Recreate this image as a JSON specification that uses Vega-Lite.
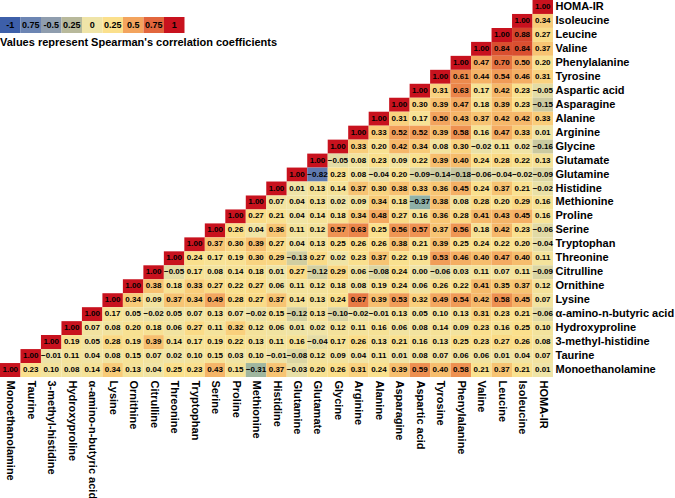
{
"$schema":"https://vega.github.io/schema/vega-lite/v6.json",
"padding":{"left":0,"top":0,"right":0,"bottom":0},
"width":553,"height":377,
"config":{"view":{"stroke":null},"font":"Liberation Sans"},
"resolve":{"scale":{"x":"independent","y":"independent"}},
"layer":[
{
"data":{"values":[
{"row":"HOMA-IR","col":"HOMA-IR","r":1},
{"row":"Isoleucine","col":"Isoleucine","r":1},{"row":"Isoleucine","col":"HOMA-IR","r":0.34},
{"row":"Leucine","col":"Leucine","r":1},{"row":"Leucine","col":"Isoleucine","r":0.88},{"row":"Leucine","col":"HOMA-IR","r":0.27},
{"row":"Valine","col":"Valine","r":1},{"row":"Valine","col":"Leucine","r":0.84},{"row":"Valine","col":"Isoleucine","r":0.84},{"row":"Valine","col":"HOMA-IR","r":0.37},
{"row":"Phenylalanine","col":"Phenylalanine","r":1},{"row":"Phenylalanine","col":"Valine","r":0.47},{"row":"Phenylalanine","col":"Leucine","r":0.70},{"row":"Phenylalanine","col":"Isoleucine","r":0.50},{"row":"Phenylalanine","col":"HOMA-IR","r":0.20},
{"row":"Tyrosine","col":"Tyrosine","r":1},{"row":"Tyrosine","col":"Phenylalanine","r":0.61},{"row":"Tyrosine","col":"Valine","r":0.44},{"row":"Tyrosine","col":"Leucine","r":0.54},{"row":"Tyrosine","col":"Isoleucine","r":0.46},{"row":"Tyrosine","col":"HOMA-IR","r":0.31},
{"row":"Aspartic acid","col":"Aspartic acid","r":1},{"row":"Aspartic acid","col":"Tyrosine","r":0.31},{"row":"Aspartic acid","col":"Phenylalanine","r":0.63},{"row":"Aspartic acid","col":"Valine","r":0.17},{"row":"Aspartic acid","col":"Leucine","r":0.42},{"row":"Aspartic acid","col":"Isoleucine","r":0.23},{"row":"Aspartic acid","col":"HOMA-IR","r":-0.05},
{"row":"Asparagine","col":"Asparagine","r":1},{"row":"Asparagine","col":"Aspartic acid","r":0.30},{"row":"Asparagine","col":"Tyrosine","r":0.39},{"row":"Asparagine","col":"Phenylalanine","r":0.47},{"row":"Asparagine","col":"Valine","r":0.18},{"row":"Asparagine","col":"Leucine","r":0.39},{"row":"Asparagine","col":"Isoleucine","r":0.23},{"row":"Asparagine","col":"HOMA-IR","r":-0.15},
{"row":"Alanine","col":"Alanine","r":1},{"row":"Alanine","col":"Asparagine","r":0.31},{"row":"Alanine","col":"Aspartic acid","r":0.17},{"row":"Alanine","col":"Tyrosine","r":0.50},{"row":"Alanine","col":"Phenylalanine","r":0.43},{"row":"Alanine","col":"Valine","r":0.37},{"row":"Alanine","col":"Leucine","r":0.42},{"row":"Alanine","col":"Isoleucine","r":0.42},{"row":"Alanine","col":"HOMA-IR","r":0.33},
{"row":"Arginine","col":"Arginine","r":1},{"row":"Arginine","col":"Alanine","r":0.33},{"row":"Arginine","col":"Asparagine","r":0.52},{"row":"Arginine","col":"Aspartic acid","r":0.52},{"row":"Arginine","col":"Tyrosine","r":0.39},{"row":"Arginine","col":"Phenylalanine","r":0.58},{"row":"Arginine","col":"Valine","r":0.16},{"row":"Arginine","col":"Leucine","r":0.47},{"row":"Arginine","col":"Isoleucine","r":0.33},{"row":"Arginine","col":"HOMA-IR","r":0.01},
{"row":"Glycine","col":"Glycine","r":1},{"row":"Glycine","col":"Arginine","r":0.33},{"row":"Glycine","col":"Alanine","r":0.20},{"row":"Glycine","col":"Asparagine","r":0.42},{"row":"Glycine","col":"Aspartic acid","r":0.34},{"row":"Glycine","col":"Tyrosine","r":0.08},{"row":"Glycine","col":"Phenylalanine","r":0.30},{"row":"Glycine","col":"Valine","r":-0.02},{"row":"Glycine","col":"Leucine","r":0.11},{"row":"Glycine","col":"Isoleucine","r":0.02},{"row":"Glycine","col":"HOMA-IR","r":-0.16},
{"row":"Glutamate","col":"Glutamate","r":1},{"row":"Glutamate","col":"Glycine","r":-0.05},{"row":"Glutamate","col":"Arginine","r":0.08},{"row":"Glutamate","col":"Alanine","r":0.23},{"row":"Glutamate","col":"Asparagine","r":0.09},{"row":"Glutamate","col":"Aspartic acid","r":0.22},{"row":"Glutamate","col":"Tyrosine","r":0.39},{"row":"Glutamate","col":"Phenylalanine","r":0.40},{"row":"Glutamate","col":"Valine","r":0.24},{"row":"Glutamate","col":"Leucine","r":0.28},{"row":"Glutamate","col":"Isoleucine","r":0.22},{"row":"Glutamate","col":"HOMA-IR","r":0.13},
{"row":"Glutamine","col":"Glutamine","r":1},{"row":"Glutamine","col":"Glutamate","r":-0.82},{"row":"Glutamine","col":"Glycine","r":0.23},{"row":"Glutamine","col":"Arginine","r":0.08},{"row":"Glutamine","col":"Alanine","r":-0.04},{"row":"Glutamine","col":"Asparagine","r":0.20},{"row":"Glutamine","col":"Aspartic acid","r":-0.09},{"row":"Glutamine","col":"Tyrosine","r":-0.14},{"row":"Glutamine","col":"Phenylalanine","r":-0.18},{"row":"Glutamine","col":"Valine","r":-0.06},{"row":"Glutamine","col":"Leucine","r":-0.04},{"row":"Glutamine","col":"Isoleucine","r":-0.02},{"row":"Glutamine","col":"HOMA-IR","r":-0.09},
{"row":"Histidine","col":"Histidine","r":1},{"row":"Histidine","col":"Glutamine","r":0.01},{"row":"Histidine","col":"Glutamate","r":0.13},{"row":"Histidine","col":"Glycine","r":0.14},{"row":"Histidine","col":"Arginine","r":0.37},{"row":"Histidine","col":"Alanine","r":0.30},{"row":"Histidine","col":"Asparagine","r":0.38},{"row":"Histidine","col":"Aspartic acid","r":0.33},{"row":"Histidine","col":"Tyrosine","r":0.36},{"row":"Histidine","col":"Phenylalanine","r":0.45},{"row":"Histidine","col":"Valine","r":0.24},{"row":"Histidine","col":"Leucine","r":0.37},{"row":"Histidine","col":"Isoleucine","r":0.21},{"row":"Histidine","col":"HOMA-IR","r":-0.02},
{"row":"Methionine","col":"Methionine","r":1},{"row":"Methionine","col":"Histidine","r":0.07},{"row":"Methionine","col":"Glutamine","r":0.04},{"row":"Methionine","col":"Glutamate","r":0.13},{"row":"Methionine","col":"Glycine","r":0.02},{"row":"Methionine","col":"Arginine","r":0.09},{"row":"Methionine","col":"Alanine","r":0.34},{"row":"Methionine","col":"Asparagine","r":0.18},{"row":"Methionine","col":"Aspartic acid","r":-0.37},{"row":"Methionine","col":"Tyrosine","r":0.38},{"row":"Methionine","col":"Phenylalanine","r":0.08},{"row":"Methionine","col":"Valine","r":0.28},{"row":"Methionine","col":"Leucine","r":0.20},{"row":"Methionine","col":"Isoleucine","r":0.29},{"row":"Methionine","col":"HOMA-IR","r":0.16},
{"row":"Proline","col":"Proline","r":1},{"row":"Proline","col":"Methionine","r":0.27},{"row":"Proline","col":"Histidine","r":0.21},{"row":"Proline","col":"Glutamine","r":0.04},{"row":"Proline","col":"Glutamate","r":0.14},{"row":"Proline","col":"Glycine","r":0.18},{"row":"Proline","col":"Arginine","r":0.34},{"row":"Proline","col":"Alanine","r":0.48},{"row":"Proline","col":"Asparagine","r":0.27},{"row":"Proline","col":"Aspartic acid","r":0.16},{"row":"Proline","col":"Tyrosine","r":0.36},{"row":"Proline","col":"Phenylalanine","r":0.28},{"row":"Proline","col":"Valine","r":0.41},{"row":"Proline","col":"Leucine","r":0.43},{"row":"Proline","col":"Isoleucine","r":0.45},{"row":"Proline","col":"HOMA-IR","r":0.16},
{"row":"Serine","col":"Serine","r":1},{"row":"Serine","col":"Proline","r":0.26},{"row":"Serine","col":"Methionine","r":0.04},{"row":"Serine","col":"Histidine","r":0.36},{"row":"Serine","col":"Glutamine","r":0.11},{"row":"Serine","col":"Glutamate","r":0.12},{"row":"Serine","col":"Glycine","r":0.57},{"row":"Serine","col":"Arginine","r":0.63},{"row":"Serine","col":"Alanine","r":0.25},{"row":"Serine","col":"Asparagine","r":0.56},{"row":"Serine","col":"Aspartic acid","r":0.57},{"row":"Serine","col":"Tyrosine","r":0.37},{"row":"Serine","col":"Phenylalanine","r":0.56},{"row":"Serine","col":"Valine","r":0.18},{"row":"Serine","col":"Leucine","r":0.42},{"row":"Serine","col":"Isoleucine","r":0.23},{"row":"Serine","col":"HOMA-IR","r":-0.06},
{"row":"Tryptophan","col":"Tryptophan","r":1},{"row":"Tryptophan","col":"Serine","r":0.37},{"row":"Tryptophan","col":"Proline","r":0.30},{"row":"Tryptophan","col":"Methionine","r":0.39},{"row":"Tryptophan","col":"Histidine","r":0.27},{"row":"Tryptophan","col":"Glutamine","r":0.04},{"row":"Tryptophan","col":"Glutamate","r":0.13},{"row":"Tryptophan","col":"Glycine","r":0.25},{"row":"Tryptophan","col":"Arginine","r":0.26},{"row":"Tryptophan","col":"Alanine","r":0.26},{"row":"Tryptophan","col":"Asparagine","r":0.38},{"row":"Tryptophan","col":"Aspartic acid","r":0.21},{"row":"Tryptophan","col":"Tyrosine","r":0.39},{"row":"Tryptophan","col":"Phenylalanine","r":0.25},{"row":"Tryptophan","col":"Valine","r":0.24},{"row":"Tryptophan","col":"Leucine","r":0.22},{"row":"Tryptophan","col":"Isoleucine","r":0.20},{"row":"Tryptophan","col":"HOMA-IR","r":-0.04},
{"row":"Threonine","col":"Threonine","r":1},{"row":"Threonine","col":"Tryptophan","r":0.24},{"row":"Threonine","col":"Serine","r":0.17},{"row":"Threonine","col":"Proline","r":0.19},{"row":"Threonine","col":"Methionine","r":0.30},{"row":"Threonine","col":"Histidine","r":0.29},{"row":"Threonine","col":"Glutamine","r":-0.13},{"row":"Threonine","col":"Glutamate","r":0.27},{"row":"Threonine","col":"Glycine","r":0.02},{"row":"Threonine","col":"Arginine","r":0.23},{"row":"Threonine","col":"Alanine","r":0.37},{"row":"Threonine","col":"Asparagine","r":0.22},{"row":"Threonine","col":"Aspartic acid","r":0.19},{"row":"Threonine","col":"Tyrosine","r":0.53},{"row":"Threonine","col":"Phenylalanine","r":0.46},{"row":"Threonine","col":"Valine","r":0.40},{"row":"Threonine","col":"Leucine","r":0.47},{"row":"Threonine","col":"Isoleucine","r":0.40},{"row":"Threonine","col":"HOMA-IR","r":0.11},
{"row":"Citrulline","col":"Citrulline","r":1},{"row":"Citrulline","col":"Threonine","r":-0.05},{"row":"Citrulline","col":"Tryptophan","r":0.17},{"row":"Citrulline","col":"Serine","r":0.08},{"row":"Citrulline","col":"Proline","r":0.14},{"row":"Citrulline","col":"Methionine","r":0.18},{"row":"Citrulline","col":"Histidine","r":0.01},{"row":"Citrulline","col":"Glutamine","r":0.27},{"row":"Citrulline","col":"Glutamate","r":-0.12},{"row":"Citrulline","col":"Glycine","r":0.29},{"row":"Citrulline","col":"Arginine","r":0.06},{"row":"Citrulline","col":"Alanine","r":-0.08},{"row":"Citrulline","col":"Asparagine","r":0.24},{"row":"Citrulline","col":"Aspartic acid","r":0.00},{"row":"Citrulline","col":"Tyrosine","r":-0.06},{"row":"Citrulline","col":"Phenylalanine","r":0.03},{"row":"Citrulline","col":"Valine","r":0.11},{"row":"Citrulline","col":"Leucine","r":0.07},{"row":"Citrulline","col":"Isoleucine","r":0.11},{"row":"Citrulline","col":"HOMA-IR","r":-0.09},
{"row":"Ornithine","col":"Ornithine","r":1},{"row":"Ornithine","col":"Citrulline","r":0.38},{"row":"Ornithine","col":"Threonine","r":0.18},{"row":"Ornithine","col":"Tryptophan","r":0.33},{"row":"Ornithine","col":"Serine","r":0.27},{"row":"Ornithine","col":"Proline","r":0.22},{"row":"Ornithine","col":"Methionine","r":0.27},{"row":"Ornithine","col":"Histidine","r":0.06},{"row":"Ornithine","col":"Glutamine","r":0.11},{"row":"Ornithine","col":"Glutamate","r":0.12},{"row":"Ornithine","col":"Glycine","r":0.18},{"row":"Ornithine","col":"Arginine","r":0.08},{"row":"Ornithine","col":"Alanine","r":0.19},{"row":"Ornithine","col":"Asparagine","r":0.24},{"row":"Ornithine","col":"Aspartic acid","r":0.06},{"row":"Ornithine","col":"Tyrosine","r":0.26},{"row":"Ornithine","col":"Phenylalanine","r":0.22},{"row":"Ornithine","col":"Valine","r":0.41},{"row":"Ornithine","col":"Leucine","r":0.35},{"row":"Ornithine","col":"Isoleucine","r":0.37},{"row":"Ornithine","col":"HOMA-IR","r":0.12},
{"row":"Lysine","col":"Lysine","r":1},{"row":"Lysine","col":"Ornithine","r":0.34},{"row":"Lysine","col":"Citrulline","r":0.09},{"row":"Lysine","col":"Threonine","r":0.37},{"row":"Lysine","col":"Tryptophan","r":0.34},{"row":"Lysine","col":"Serine","r":0.49},{"row":"Lysine","col":"Proline","r":0.28},{"row":"Lysine","col":"Methionine","r":0.27},{"row":"Lysine","col":"Histidine","r":0.37},{"row":"Lysine","col":"Glutamine","r":0.14},{"row":"Lysine","col":"Glutamate","r":0.13},{"row":"Lysine","col":"Glycine","r":0.24},{"row":"Lysine","col":"Arginine","r":0.67},{"row":"Lysine","col":"Alanine","r":0.39},{"row":"Lysine","col":"Asparagine","r":0.53},{"row":"Lysine","col":"Aspartic acid","r":0.32},{"row":"Lysine","col":"Tyrosine","r":0.49},{"row":"Lysine","col":"Phenylalanine","r":0.54},{"row":"Lysine","col":"Valine","r":0.42},{"row":"Lysine","col":"Leucine","r":0.58},{"row":"Lysine","col":"Isoleucine","r":0.45},{"row":"Lysine","col":"HOMA-IR","r":0.07},
{"row":"α-amino-n-butyric acid","col":"α-amino-n-butyric acid","r":1},{"row":"α-amino-n-butyric acid","col":"Lysine","r":0.17},{"row":"α-amino-n-butyric acid","col":"Ornithine","r":0.05},{"row":"α-amino-n-butyric acid","col":"Citrulline","r":-0.02},{"row":"α-amino-n-butyric acid","col":"Threonine","r":0.05},{"row":"α-amino-n-butyric acid","col":"Tryptophan","r":0.07},{"row":"α-amino-n-butyric acid","col":"Serine","r":0.13},{"row":"α-amino-n-butyric acid","col":"Proline","r":0.07},{"row":"α-amino-n-butyric acid","col":"Methionine","r":-0.02},{"row":"α-amino-n-butyric acid","col":"Histidine","r":0.15},{"row":"α-amino-n-butyric acid","col":"Glutamine","r":-0.12},{"row":"α-amino-n-butyric acid","col":"Glutamate","r":0.13},{"row":"α-amino-n-butyric acid","col":"Glycine","r":-0.10},{"row":"α-amino-n-butyric acid","col":"Arginine","r":-0.02},{"row":"α-amino-n-butyric acid","col":"Alanine","r":-0.01},{"row":"α-amino-n-butyric acid","col":"Asparagine","r":0.13},{"row":"α-amino-n-butyric acid","col":"Aspartic acid","r":0.05},{"row":"α-amino-n-butyric acid","col":"Tyrosine","r":0.10},{"row":"α-amino-n-butyric acid","col":"Phenylalanine","r":0.13},{"row":"α-amino-n-butyric acid","col":"Valine","r":0.31},{"row":"α-amino-n-butyric acid","col":"Leucine","r":0.23},{"row":"α-amino-n-butyric acid","col":"Isoleucine","r":0.21},{"row":"α-amino-n-butyric acid","col":"HOMA-IR","r":-0.06},
{"row":"Hydroxyproline","col":"Hydroxyproline","r":1},{"row":"Hydroxyproline","col":"α-amino-n-butyric acid","r":0.07},{"row":"Hydroxyproline","col":"Lysine","r":0.08},{"row":"Hydroxyproline","col":"Ornithine","r":0.20},{"row":"Hydroxyproline","col":"Citrulline","r":0.18},{"row":"Hydroxyproline","col":"Threonine","r":0.06},{"row":"Hydroxyproline","col":"Tryptophan","r":0.27},{"row":"Hydroxyproline","col":"Serine","r":0.11},{"row":"Hydroxyproline","col":"Proline","r":0.32},{"row":"Hydroxyproline","col":"Methionine","r":0.12},{"row":"Hydroxyproline","col":"Histidine","r":0.06},{"row":"Hydroxyproline","col":"Glutamine","r":0.01},{"row":"Hydroxyproline","col":"Glutamate","r":0.02},{"row":"Hydroxyproline","col":"Glycine","r":0.12},{"row":"Hydroxyproline","col":"Arginine","r":0.11},{"row":"Hydroxyproline","col":"Alanine","r":0.16},{"row":"Hydroxyproline","col":"Asparagine","r":0.06},{"row":"Hydroxyproline","col":"Aspartic acid","r":0.08},{"row":"Hydroxyproline","col":"Tyrosine","r":0.14},{"row":"Hydroxyproline","col":"Phenylalanine","r":0.09},{"row":"Hydroxyproline","col":"Valine","r":0.23},{"row":"Hydroxyproline","col":"Leucine","r":0.16},{"row":"Hydroxyproline","col":"Isoleucine","r":0.25},{"row":"Hydroxyproline","col":"HOMA-IR","r":0.10},
{"row":"3-methyl-histidine","col":"3-methyl-histidine","r":1},{"row":"3-methyl-histidine","col":"Hydroxyproline","r":0.19},{"row":"3-methyl-histidine","col":"α-amino-n-butyric acid","r":0.05},{"row":"3-methyl-histidine","col":"Lysine","r":0.28},{"row":"3-methyl-histidine","col":"Ornithine","r":0.19},{"row":"3-methyl-histidine","col":"Citrulline","r":0.39},{"row":"3-methyl-histidine","col":"Threonine","r":0.14},{"row":"3-methyl-histidine","col":"Tryptophan","r":0.17},{"row":"3-methyl-histidine","col":"Serine","r":0.19},{"row":"3-methyl-histidine","col":"Proline","r":0.22},{"row":"3-methyl-histidine","col":"Methionine","r":0.13},{"row":"3-methyl-histidine","col":"Histidine","r":0.11},{"row":"3-methyl-histidine","col":"Glutamine","r":0.16},{"row":"3-methyl-histidine","col":"Glutamate","r":-0.04},{"row":"3-methyl-histidine","col":"Glycine","r":0.17},{"row":"3-methyl-histidine","col":"Arginine","r":0.26},{"row":"3-methyl-histidine","col":"Alanine","r":0.13},{"row":"3-methyl-histidine","col":"Asparagine","r":0.21},{"row":"3-methyl-histidine","col":"Aspartic acid","r":0.16},{"row":"3-methyl-histidine","col":"Tyrosine","r":0.13},{"row":"3-methyl-histidine","col":"Phenylalanine","r":0.25},{"row":"3-methyl-histidine","col":"Valine","r":0.23},{"row":"3-methyl-histidine","col":"Leucine","r":0.27},{"row":"3-methyl-histidine","col":"Isoleucine","r":0.26},{"row":"3-methyl-histidine","col":"HOMA-IR","r":0.08},
{"row":"Taurine","col":"Taurine","r":1},{"row":"Taurine","col":"3-methyl-histidine","r":-0.01},{"row":"Taurine","col":"Hydroxyproline","r":0.11},{"row":"Taurine","col":"α-amino-n-butyric acid","r":0.04},{"row":"Taurine","col":"Lysine","r":0.08},{"row":"Taurine","col":"Ornithine","r":0.15},{"row":"Taurine","col":"Citrulline","r":0.07},{"row":"Taurine","col":"Threonine","r":0.02},{"row":"Taurine","col":"Tryptophan","r":0.10},{"row":"Taurine","col":"Serine","r":0.15},{"row":"Taurine","col":"Proline","r":0.03},{"row":"Taurine","col":"Methionine","r":0.10},{"row":"Taurine","col":"Histidine","r":-0.01},{"row":"Taurine","col":"Glutamine","r":-0.08},{"row":"Taurine","col":"Glutamate","r":0.12},{"row":"Taurine","col":"Glycine","r":0.09},{"row":"Taurine","col":"Arginine","r":0.04},{"row":"Taurine","col":"Alanine","r":0.11},{"row":"Taurine","col":"Asparagine","r":0.01},{"row":"Taurine","col":"Aspartic acid","r":0.08},{"row":"Taurine","col":"Tyrosine","r":0.07},{"row":"Taurine","col":"Phenylalanine","r":0.06},{"row":"Taurine","col":"Valine","r":0.06},{"row":"Taurine","col":"Leucine","r":0.01},{"row":"Taurine","col":"Isoleucine","r":0.04},{"row":"Taurine","col":"HOMA-IR","r":0.07},
{"row":"Monoethanolamine","col":"Monoethanolamine","r":1},{"row":"Monoethanolamine","col":"Taurine","r":0.23},{"row":"Monoethanolamine","col":"3-methyl-histidine","r":0.10},{"row":"Monoethanolamine","col":"Hydroxyproline","r":0.08},{"row":"Monoethanolamine","col":"α-amino-n-butyric acid","r":0.14},{"row":"Monoethanolamine","col":"Lysine","r":0.34},{"row":"Monoethanolamine","col":"Ornithine","r":0.13},{"row":"Monoethanolamine","col":"Citrulline","r":0.04},{"row":"Monoethanolamine","col":"Threonine","r":0.25},{"row":"Monoethanolamine","col":"Tryptophan","r":0.23},{"row":"Monoethanolamine","col":"Serine","r":0.43},{"row":"Monoethanolamine","col":"Proline","r":0.15},{"row":"Monoethanolamine","col":"Methionine","r":-0.31},{"row":"Monoethanolamine","col":"Histidine","r":0.37},{"row":"Monoethanolamine","col":"Glutamine","r":-0.03},{"row":"Monoethanolamine","col":"Glutamate","r":0.20},{"row":"Monoethanolamine","col":"Glycine","r":0.26},{"row":"Monoethanolamine","col":"Arginine","r":0.31},{"row":"Monoethanolamine","col":"Alanine","r":0.24},{"row":"Monoethanolamine","col":"Asparagine","r":0.39},{"row":"Monoethanolamine","col":"Aspartic acid","r":0.59},{"row":"Monoethanolamine","col":"Tyrosine","r":0.40},{"row":"Monoethanolamine","col":"Phenylalanine","r":0.58},{"row":"Monoethanolamine","col":"Valine","r":0.21},{"row":"Monoethanolamine","col":"Leucine","r":0.37},{"row":"Monoethanolamine","col":"Isoleucine","r":0.21},{"row":"Monoethanolamine","col":"HOMA-IR","r":0.01}
]},
"encoding":{
"x":{"field":"col","type":"nominal","sort":["Monoethanolamine","Taurine","3-methyl-histidine","Hydroxyproline","α-amino-n-butyric acid","Lysine","Ornithine","Citrulline","Threonine","Tryptophan","Serine","Proline","Methionine","Histidine","Glutamine","Glutamate","Glycine","Arginine","Alanine","Asparagine","Aspartic acid","Tyrosine","Phenylalanine","Valine","Leucine","Isoleucine","HOMA-IR"],
"scale":{"paddingInner":0,"paddingOuter":0},
"axis":{"orient":"bottom","title":null,"labelAngle":90,"labelAlign":"left","labelBaseline":"middle","labelFont":"Liberation Sans","labelFontWeight":"bold","labelFontSize":11,"labelColor":"#000000","ticks":false,"domain":false,"labelPadding":3}},
"y":{"field":"row","type":"nominal","sort":["HOMA-IR","Isoleucine","Leucine","Valine","Phenylalanine","Tyrosine","Aspartic acid","Asparagine","Alanine","Arginine","Glycine","Glutamate","Glutamine","Histidine","Methionine","Proline","Serine","Tryptophan","Threonine","Citrulline","Ornithine","Lysine","α-amino-n-butyric acid","Hydroxyproline","3-methyl-histidine","Taurine","Monoethanolamine"],
"scale":{"paddingInner":0,"paddingOuter":0},
"axis":{"orient":"right","title":null,"labelAlign":"left","labelBaseline":"middle","labelFont":"Liberation Sans","labelFontWeight":"bold","labelFontSize":11,"labelColor":"#000000","ticks":false,"domain":false,"labelPadding":2}}
},
"layer":[
{"mark":{"type":"rect"},
"encoding":{"color":{"field":"r","type":"quantitative","legend":null,
"scale":{"domain":[-1,-0.75,-0.5,-0.25,0,0.25,0.5,0.75,1],"range":["#3d5fa9","#6c85b3","#8f9dae","#b8b99b","#efe4a8","#fbe08c","#f3a45e","#e2663d","#c8121e"]}}}},
{"mark":{"type":"text","font":"Liberation Sans","fontWeight":"bold","fontSize":8,"color":"#000000"},
"encoding":{"text":{"field":"r","type":"quantitative","format":".2f"}}}
]
},
{
"data":{"values":[{"v":-1,"lab":"-1"},{"v":-0.75,"lab":"0.75"},{"v":-0.5,"lab":"-0.5"},{"v":-0.25,"lab":"0.25"},{"v":0,"lab":"0"},{"v":0.25,"lab":"0.25"},{"v":0.5,"lab":"0.5"},{"v":0.75,"lab":"0.75"},{"v":1,"lab":"1"}]},
"encoding":{"x":{"field":"v","type":"ordinal","scale":{"range":[0,184.5],"paddingInner":0,"paddingOuter":0},"axis":null}},
"layer":[
{"mark":{"type":"rect"},
"encoding":{"y":{"datum":0,"type":"quantitative","scale":{"domain":[0,1],"range":[17,33]},"axis":null},"y2":{"datum":1},
"color":{"field":"v","type":"quantitative","legend":null,
"scale":{"domain":[-1,-0.75,-0.5,-0.25,0,0.25,0.5,0.75,1],"range":["#3d5fa9","#6c85b3","#8f9dae","#b8b99b","#efe4a8","#fbe08c","#f3a45e","#e2663d","#c8121e"]}}}},
{"mark":{"type":"text","font":"Liberation Sans","fontWeight":"bold","fontSize":9,"color":"#000000","baseline":"middle"},
"encoding":{"y":{"datum":0.5,"type":"quantitative"},"text":{"field":"lab"}}},
{"data":{"values":[{"t":"Values represent Spearman's correlation coefficients"}]},
"mark":{"type":"text","font":"Liberation Sans","fontWeight":"bold","fontSize":11,"color":"#000000","align":"left","baseline":"alphabetic"},
"encoding":{"x":{"datum":-1,"type":"ordinal","bandPosition":0},"y":{"datum":1.8,"type":"quantitative"},"text":{"field":"t"}}}
]
}
]
}
